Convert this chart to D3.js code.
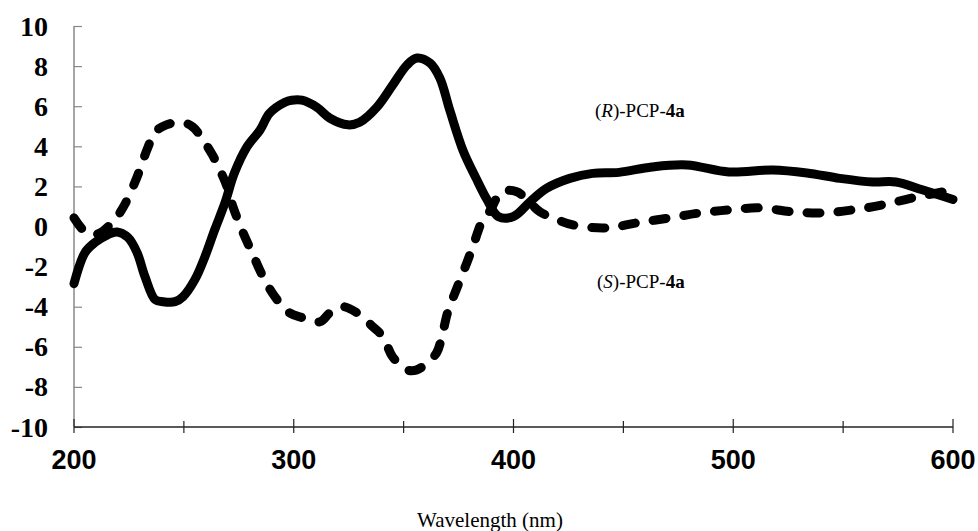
<!DOCTYPE html>
<html>
<head>
<meta charset="utf-8">
<script src="https://cdn.jsdelivr.net/npm/d3@7"></script>
<style>
  html, body { margin: 0; padding: 0; background: #fff; }
  svg { display: block; }
</style>
</head>
<body>
<svg id="chart" width="978" height="531"></svg>
<script>
// CD spectra of the two enantiomers (wavelength in nm, CD in mdeg)
const wlR = [200, 205, 209.5, 215.5, 219.6, 224.6, 228.7, 232.3, 236.9, 240.5, 246, 249.6, 255, 259.6, 264, 268.7, 273, 278.7, 284.6, 289, 296, 299, 303.7, 310.5, 316.5, 324.7, 330, 337.8, 345, 351.5, 356, 362, 366.5, 371, 377, 383, 388, 393, 400, 407.5, 415, 425.6, 436, 448, 463, 479, 498, 518, 533.5, 548.5, 563.5, 574, 586, 600];
const cdR = [-2.85, -1.3, -0.8, -0.4, -0.27, -0.55, -1.3, -2.5, -3.65, -3.75, -3.75, -3.5, -2.65, -1.5, -0.17, 1.18, 2.67, 3.97, 4.8, 5.65, 6.2, 6.3, 6.3, 5.95, 5.4, 5.07, 5.2, 5.95, 7.05, 8.05, 8.4, 8.15, 7.4, 5.8, 3.8, 2.4, 1.33, 0.5, 0.5, 1.23, 1.9, 2.4, 2.65, 2.7, 2.97, 3.07, 2.72, 2.82, 2.67, 2.4, 2.22, 2.22, 1.83, 1.35];

const wlS = [200, 205, 210, 217.7, 223, 228.7, 233.7, 237, 242, 249, 254, 258.7, 263, 266.4, 269.6, 272.3, 276.4, 281, 286, 291.4, 298, 304, 312, 316.5, 322.4, 328.7, 336, 340.6, 345, 351.5, 356, 360.6, 365, 367.4, 370, 374.5, 378.8, 381.5, 386, 389, 394.7, 401.5, 407.5, 412, 418, 427, 442.5, 456, 471, 485, 498.5, 512, 527, 540.7, 554.4, 568, 581.7, 595.4, 600];
const cdS = [0.43, -0.25, -0.4, 0.23, 1.08, 2.47, 3.97, 4.72, 5.07, 5.2, 4.97, 4.32, 3.57, 2.82, 2.0, 1.0, -0.17, -1.3, -2.5, -3.5, -4.3, -4.55, -4.75, -4.3, -4.0, -4.3, -5.0, -5.5, -6.5, -7.15, -7.15, -6.8, -6.3, -5.5, -4.3, -3.0, -1.8, -1.0, 0.33, 0.73, 1.73, 1.73, 1.18, 0.73, 0.43, 0.08, -0.07, 0.18, 0.43, 0.68, 0.83, 0.93, 0.73, 0.68, 0.83, 1.08, 1.43, 1.73, 1.85];

const yTicks = [-10, -8, -6, -4, -2, 0, 2, 4, 6, 8, 10];
const xMajor = [200, 300, 400, 500, 600];
const xMinor = [250, 350, 450, 550];

const svg = d3.select("#chart");

const x = d3.scaleLinear().domain([200, 600]).range([74, 953]);
const y = d3.scaleLinear().domain([-10, 10]).range([427, 26]);

// y axis (grey, ticks pointing inward)
const yAxis = svg.append("g").attr("transform", `translate(${x(200)},0)`)
  .call(d3.axisRight(y).tickValues(yTicks).tickSize(8).tickFormat(""));
yAxis.select(".domain").attr("stroke", "#888").attr("stroke-width", 1.5).attr("d", `M0,${y(10)}V${y(-10)}`);
yAxis.selectAll(".tick line").attr("stroke", "#888").attr("stroke-width", 1.2);

svg.append("g").selectAll("text").data(yTicks).join("text")
  .attr("x", 48).attr("y", d => y(d)).attr("dy", "0.34em")
  .attr("text-anchor", "end")
  .attr("font-family", "'Liberation Serif', 'Times New Roman', serif")
  .attr("font-weight", "bold").attr("font-size", 28)
  .text(d => d);

// x axis at the bottom, cross ticks
const xg = svg.append("g");
xg.append("line").attr("x1", x(200)).attr("x2", x(600)).attr("y1", y(-10)).attr("y2", y(-10))
  .attr("stroke", "#222").attr("stroke-width", 1.5);
xg.selectAll("line.maj").data(xMajor).join("line").attr("class", "maj")
  .attr("x1", d => x(d)).attr("x2", d => x(d))
  .attr("y1", y(-10) - 8).attr("y2", y(-10) + 6)
  .attr("stroke", "#222").attr("stroke-width", 1.2);
xg.selectAll("line.min").data(xMinor).join("line").attr("class", "min")
  .attr("x1", d => x(d)).attr("x2", d => x(d))
  .attr("y1", y(-10) - 6).attr("y2", y(-10) + 6)
  .attr("stroke", "#222").attr("stroke-width", 1.2);
xg.selectAll("text").data(xMajor).join("text")
  .attr("x", d => x(d)).attr("y", 469)
  .attr("text-anchor", "middle")
  .attr("font-family", "'Liberation Sans', Arial, sans-serif")
  .attr("font-weight", "bold").attr("font-size", 27)
  .text(d => d);

svg.append("text")
  .attr("x", 490).attr("y", 527)
  .attr("text-anchor", "middle")
  .attr("font-family", "'Liberation Serif', 'Times New Roman', serif")
  .attr("font-size", 21)
  .text("Wavelength (nm)");

// spectra
const line = d3.line().curve(d3.curveCatmullRom.alpha(0.5));

svg.append("path")
  .attr("d", line(wlR.map((w, i) => [x(w), y(cdR[i])])))
  .attr("fill", "none").attr("stroke", "#000").attr("stroke-width", 9)
  .attr("stroke-linejoin", "round").attr("stroke-linecap", "round");

svg.append("path")
  .attr("d", line(wlS.map((w, i) => [x(w), y(cdS[i])])))
  .attr("fill", "none").attr("stroke", "#000").attr("stroke-width", 9)
  .attr("stroke-dasharray", "13 18")
  .attr("stroke-linejoin", "round").attr("stroke-linecap", "round");

// series labels
function seriesLabel(px, py, letter) {
  const t = svg.append("text").attr("x", px).attr("y", py)
    .attr("font-family", "'Liberation Serif', 'Times New Roman', serif")
    .attr("font-size", 19);
  t.append("tspan").text("(");
  t.append("tspan").attr("font-style", "italic").text(letter);
  t.append("tspan").text(")-PCP-");
  t.append("tspan").attr("font-weight", "bold").text("4a");
}
seriesLabel(595, 117, "R");
seriesLabel(597, 288, "S");
</script>
</body>
</html>
